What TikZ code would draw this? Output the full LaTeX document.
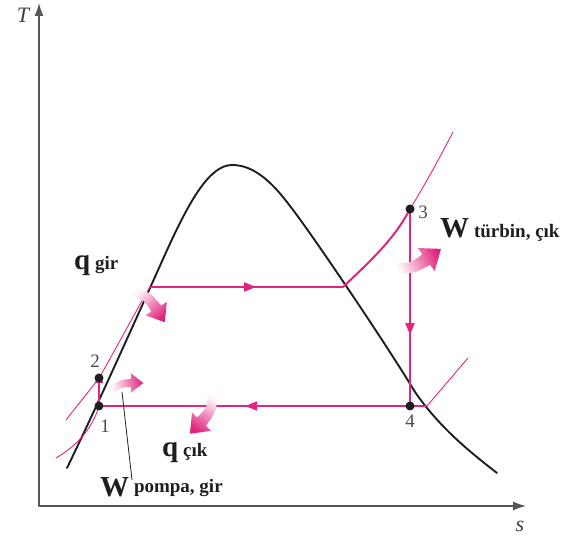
\documentclass[tikz,border=0pt]{standalone}
\usepackage{fontspec}
\setmainfont{Liberation Serif}
\usetikzlibrary{arrows.meta,decorations.markings}
\definecolor{rankpink}{HTML}{E0257F}
\definecolor{rankink}{HTML}{1E1E1E}
\newcommand{\subtxt}[1]{{\fontsize{19}{19}\selectfont #1}}

\begin{document}
\begin{tikzpicture}[x=1pt,y=-1pt,line cap=round,line join=round,
  axis/.style={-{Latex[length=13pt,width=9pt]},line width=1.3pt,rankink!75},
  dome/.style={line width=1.9pt,rankink},
  proc/.style={line width=2pt,rankpink},
  isobar/.style={line width=0.9pt,rankpink},
  midarr/.style={postaction={decorate},decoration={markings,
    mark=at position #1 with {\arrow{Triangle[length=12pt,width=9pt]}}}},
  num/.style={font=\fontsize{19}{19}\selectfont,text=rankink!80,inner sep=0pt},
  axlab/.style={font=\fontsize{22}{22}\selectfont\itshape,text=rankink!85,inner sep=0pt},
  sym/.style={font=\fontsize{29}{29}\selectfont\bfseries,text=rankink,inner sep=0pt,anchor=base west},
  heatarr/.pic={
    \shade[top color=rankpink!5,bottom color=rankpink,shading angle=#1]
      (-1,-4) .. controls (8,-11) .. (22,-13) -- (22,-19) -- (36,-8)
      -- (22,3) -- (22,-3) .. controls (10,-3) .. (2,4) -- cycle;
  }]
\useasboundingbox (0,0) rectangle (566,540);

% axes
\coordinate (o) at (39,506);
\coordinate (tend) at (39,3);
\coordinate (send) at (526,506);
\draw[axis] (o) -- (tend);
\draw[axis] (o) -- (send);
\node[axlab] (tlab) at (23,15) {T};
\node[axlab] (slab) at (520,526) {s};

% saturation dome
\draw[dome] (67,468) .. controls (100,400) and (140,310) .. (168,248)
  .. controls (190,200) and (210,165) .. (232,165)
  .. controls (254,165) and (272,182) .. (290,206)
  .. controls (312,234) and (390,350) .. (415,392)
  .. controls (440,428) and (470,452) .. (497,473);

% states
\coordinate (c1) at (99,406);
\coordinate (c2) at (99,378);
\coordinate (c3) at (410,209);
\coordinate (c4) at (410,406);
\coordinate (sl) at (150,287);
\coordinate (sv) at (343,287);
\coordinate (hi0) at (66,420);
\coordinate (hiend) at (453,132);
\coordinate (lo0) at (56,458);
\coordinate (lox) at (427,406);
\coordinate (loend) at (468,358);

% constant pressure lines
\draw[isobar] (hi0) .. controls (80,402) and (90,390) .. (c2)
  .. controls (112,356) and (133,316) .. (sl);
\draw[isobar] (c3) .. controls (426,183) and (440,157) .. (hiend);
\draw[isobar] (lo0) .. controls (75,447) and (92,430) .. (c1);
\draw[isobar] (lox) -- (loend);

% cycle
\draw[proc,-{Triangle[length=9pt,width=8pt]}] (c1) -- ([yshift=4pt]c2);
\draw[proc,midarr=.55] (sl) -- (sv);
\draw[proc] (sv) .. controls (376,256) and (396,236) .. (c3);
\draw[proc,midarr=.64] (c3) -- (c4);
\draw[proc,midarr=.53] (c4) -- (c1);
\draw[proc] (c4) -- (lox);

% heat and work
\pic[rotate=-58,scale=1.15] at (135,292) {heatarr=45};
\pic[scale=0.87] at (112,390) {heatarr=104};
\pic[rotate=-134,scale=1.2] at (213,396) {heatarr=-31};
\pic[rotate=36,yscale=-1,scale=1.3] at (397,268) {heatarr=113};

\foreach \c in {c1,c2,c3,c4}
  \fill[rankink] (\c) circle (4.5);

% labels
\node[num] (n1) at (105,426) {1};
\node[num] (n2) at (95,361) {2};
\node[num] (n3) at (423,212) {3};
\node[num] (n4) at (410,421) {4};
\node[sym] (qin) at (74,270) {q\,\subtxt{gir}};
\node[sym] (qout) at (162,457) {q\,\subtxt{çık}};
\node[sym] (wout) at (440,238) {W\,\subtxt{türbin, çık}};
\node[sym] (wpump) at (100,497) {W\,\raisebox{4pt}{\subtxt{pompa, gir}}};
\coordinate (lead) at (122,392);
\draw[line width=0.8pt,rankink] (lead) -- ([xshift=32pt,yshift=-2pt]wpump.north west);
\end{tikzpicture}
\end{document}
